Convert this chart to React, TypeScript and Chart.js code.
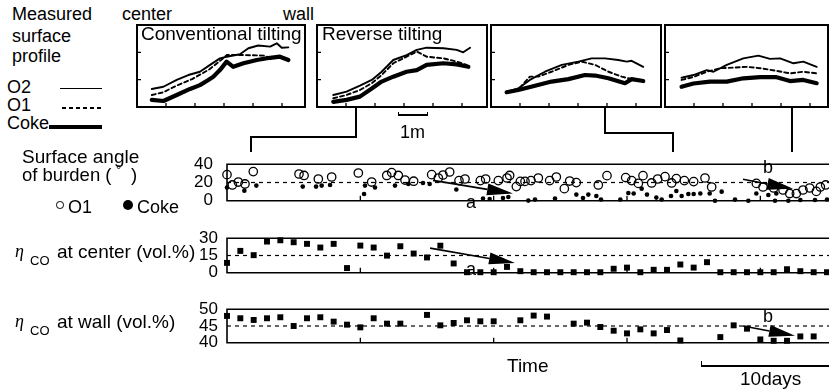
import React, { useEffect, useRef } from "react";
import { Chart, registerables } from "chart.js";
Chart.register(...registerables);

const FONT = '"Liberation Sans", Arial, Helvetica, sans-serif';
const SERIF = '"Liberation Serif", "DejaVu Serif", serif';

// ---------------- time axis (days) ----------------
const timeTicks = [10, 20, 30, 40];
const TIME_MAX = 45.6;

// ---------------- surface angle of burden (deg) : [day, angle] ----------------
const angleTicks = [0, 20, 40];
const angleRef = 20;
const angleO1: [number, number][] = [
  [0, 28.6], [0.4, 17.3], [0.85, 20.5], [1.35, 18.4], [1.97, 31.9],
  [5.4, 29.3], [5.78, 27.7], [6.85, 23.8], [7.85, 26], [9.85, 30.4],
  [10.85, 20.5], [11.98, 27.7], [12.35, 30.8], [12.85, 27.7], [13.35, 22.7],
  [14.0, 21.4], [15.35, 28.6], [15.85, 24.9], [16.2, 28.2], [16.7, 31.5],
  [17.4, 22.1], [17.85, 23.8], [19, 22.1], [19.4, 23.8], [20.35, 22.1],
  [21, 24.9], [21.2, 27.7], [21.7, 15.5], [22, 21.2], [22.35, 21.2],
  [22.8, 22.1], [23.35, 24.9], [24.2, 22.1], [24.7, 26], [25.3, 13.3],
  [25.7, 21.6], [26.2, 19.9], [27.85, 17.3], [28.5, 27.5], [29.9, 25.4],
  [30.35, 22.1], [30.85, 19], [31.2, 27.5], [31.85, 19.5], [32.3, 23.8],
  [32.85, 26.4], [33.35, 19.5], [33.7, 24.3], [34.3, 22.1], [35, 21],
  [35.85, 24.9], [36.35, 15.1], [39.7, 19], [40.2, 15.1], [41, 14],
  [41.7, 11.8], [42.2, 7.9], [42.7, 7.9], [43.2, 11.8], [43.7, 14],
  [44.2, 10.3], [44.5, 15.1], [44.9, 17.3],
];
const angleCoke: [number, number][] = [
  [0, 14.6], [1.3, 11.1], [2.2, 16.6], [5.68, 15.5], [6.68, 15.5],
  [7.1, 16.6], [7.73, 17.3], [10.28, 7.4], [10.35, 16.6], [11.1, 14.6],
  [12.6, 16.6], [13.6, 18.4], [14.7, 19.5], [15.2, 18.4], [17.2, 12.3],
  [19.2, 2.4], [19.7, 2], [20.7, 3.1], [21.1, 4.1], [22.6, 0.2],
  [23.1, 1.3], [24.6, 2.4], [26.2, 6.8], [26.7, 3.1], [27.1, 6.8],
  [27.7, 5.2], [28.05, 1.5], [29.5, 1.5], [30.1, 8.5], [30.5, 7.9],
  [31.1, 13.3], [31.5, 6.8], [32.2, 3.5], [32.6, 1.5], [33.3, 5.2],
  [33.7, 10.7], [34.1, 5.2], [34.6, 7.4], [35, 7.4], [35.5, 7.9],
  [36.2, 7.9], [36.6, 0], [37.1, 10], [38.1, 1.3], [39.1, 0],
  [39.7, 7.9], [40.6, 6.4], [41.1, 0], [41.2, 7.9], [42.1, 0],
  [43, 0.9], [44.1, 0.9], [45, 1.5],
];
const angleArrows = [
  { from: [15.45, 22.3], to: [21.45, 7.9] },
  { from: [38.7, 23.6], to: [42.46, 13.1] },
];

// ---------------- eta CO (vol.%) sampled daily ----------------
const days = [
  0, 1, 2, 3, 4, 5, 6, 7, 8, 9, 10, 11, 12, 13, 14, 15, 16, 17, 18, 19, 20, 21, 22,
  23, 24, 25, 26, 27, 28, 29, 30, 31, 32, 33, 34, 35, 36, 37, 38, 39, 40, 41, 42, 43, 44, 45,
];
const centerTicks = [0, 15, 30];
const centerRef = 15;
const coCenter = [
  8.6, 19, 15.3, 27.1, 28.2, 26.5, 25.1, 21.9, 25.1, 4.1, 23.6, 21.9, 14.9, 23, 16.7, 13.3,
  23.5, 8.1, 0.5, 0.5, 0.5, 5.1, 1.4, 0.5, 0.5, 0.5, 0.5, 0.5, 0.5, 3.5, 4.5, 0.5, 2.6, 2.6,
  7.2, 4.5, 9.2, 0.5, 0.5, 0.5, 0.5, 0.5, 3.1, 1.4, 0.5, 0.5,
];
const centerArrows = [{ from: [15.23, 21.4], to: [21.6, 8.6] }];

const wallTicks = [40, 45, 50];
const wallRef = 45;
const coWall: (number | null)[] = [
  48, 47.3, 46.8, 47.3, 47.6, 45, 47.3, 47.6, 46.3, 45.4, 44.6, 47.3, 45.7, 45.7, null, 48.3,
  45.2, 45.9, 46.7, 46.4, 46.4, null, 46.7, 48.1, 47.8, null, 45.7, 46, 44.7, 43.6, 42.8, 44,
  42.8, 43.8, 40.7, null, null, 41.7, 45.2, 44.2, 41, 40.6, 40.6, 41.9, 41.9, null,
];
const wallArrows = [{ from: [38.7, 45], to: [42.6, 42.1] }];

// ---------------- measured surface profiles : [position m, height] ----------------
const profileXTicks = [1, 2, 3, 4, 5];
const profileYTicks = [1, 2];
const conventionalO2: [number, number][] = [
  [0.51, 0.66], [0.91, 0.74], [1.37, 0.99], [1.77, 1.17], [2.17, 1.29], [2.52, 1.54],
  [2.86, 1.78], [3.09, 1.84], [3.55, 1.93], [3.84, 2.15], [4.18, 2.25], [4.59, 2.21],
  [4.82, 2.33], [4.99, 2.17], [5.22, 2.18],
];
const conventionalO1: [number, number][] = [
  [0.51, 0.44], [0.91, 0.54], [1.4, 0.8], [1.9, 1.02], [2.5, 1.38], [2.9, 1.72],
  [3.1, 1.9], [3.7, 1.9], [4.37, 1.88], [4.6, 1.8],
];
const conventionalCoke: [number, number][] = [
  [0.51, 0.26], [0.91, 0.22], [1.37, 0.44], [1.83, 0.66], [2.17, 0.8], [2.46, 0.99],
  [2.63, 1.11], [2.86, 1.35], [3.09, 1.66], [3.32, 1.47], [3.67, 1.6], [4.13, 1.72],
  [4.59, 1.8], [4.93, 1.84], [5.22, 1.72],
];
const reverseO2: [number, number][] = [
  [0.56, 0.44], [1.02, 0.56], [1.48, 0.78], [1.89, 0.99], [2.23, 1.29], [2.63, 1.72],
  [3.09, 1.9], [3.44, 2.09], [3.78, 2.17], [4.36, 2.15], [4.82, 2.09], [5.04, 2.0], [5.28, 2.17],
];
const reverseO1: [number, number][] = [
  [0.56, 0.32], [1.02, 0.44], [1.48, 0.62], [1.89, 0.87], [2.23, 1.17], [2.63, 1.6],
  [3.09, 1.84], [3.44, 2.03], [3.78, 1.84], [4.36, 1.78], [4.82, 1.66], [5.16, 1.54],
];
const reverseCoke: [number, number][] = [
  [0.56, 0.19], [1.02, 0.26], [1.48, 0.38], [1.89, 0.68], [2.23, 0.93], [2.63, 1.11],
  [3.09, 1.29], [3.44, 1.35], [3.78, 1.54], [4.36, 1.6], [4.82, 1.56], [5.22, 1.47],
];
const phase3O2: [number, number][] = [
  [0.54, 0.56], [0.94, 0.68], [1.34, 0.99], [1.86, 1.29], [2.44, 1.54], [3.01, 1.66],
  [3.47, 1.78], [3.93, 1.78], [4.39, 1.72], [4.68, 1.66], [4.85, 1.69], [5.25, 1.47],
];
const phase3O1: [number, number][] = [
  [0.54, 0.56], [0.94, 0.64], [1.34, 1.11], [1.63, 1.11], [2.09, 1.29], [2.67, 1.54],
  [3.13, 1.66], [3.59, 1.54], [4.05, 1.29], [4.51, 1.11], [4.85, 1.02], [5.25, 0.99],
];
const phase3Coke: [number, number][] = [
  [0.54, 0.54], [0.94, 0.62], [1.52, 0.78], [2.09, 0.93], [2.67, 1.02], [3.24, 1.17],
  [3.59, 1.15], [4.05, 1.05], [4.62, 0.87], [4.85, 1.02], [5.25, 0.95],
];
const phase4O2: [number, number][] = [
  [0.57, 1.07], [0.98, 1.17], [1.44, 1.35], [1.67, 1.29], [2.13, 1.54], [2.7, 1.78],
  [3.22, 1.88], [3.62, 1.76], [3.97, 1.78], [4.43, 1.6], [4.77, 1.66], [5.23, 1.47],
];
const phase4O1: [number, number][] = [
  [0.57, 0.99], [0.98, 1.1], [1.44, 1.29], [1.9, 1.42], [2.36, 1.44], [2.82, 1.47],
  [3.28, 1.42], [3.85, 1.32], [4.31, 1.23], [4.77, 1.29], [5.23, 1.23],
];
const phase4Coke: [number, number][] = [
  [0.57, 0.74], [0.98, 0.86], [1.55, 0.93], [2.13, 0.93], [2.7, 1.05], [3.28, 1.09],
  [3.85, 1.09], [4.31, 0.95], [4.77, 0.99], [5.23, 0.87],
];

// ---------------- helpers ----------------
const toXY = (pts: [number, number][]) => pts.map(([x, y]) => ({ x, y }));
const dailyXY = (vals: (number | null)[]) =>
  days.map((d, i) => (vals[i] == null ? null : { x: d, y: vals[i] })).filter(Boolean);

function drawArrow(ctx: CanvasRenderingContext2D, x1: number, y1: number, x2: number, y2: number) {
  const ang = Math.atan2(y2 - y1, x2 - x1);
  const L = 26, W = 6;
  const bx = x2 - L * Math.cos(ang), by = y2 - L * Math.sin(ang);
  ctx.lineWidth = 1.6;
  ctx.beginPath();
  ctx.moveTo(x1, y1);
  ctx.lineTo(bx, by);
  ctx.stroke();
  ctx.beginPath();
  ctx.moveTo(x2, y2);
  ctx.lineTo(bx + W * Math.sin(ang), by - W * Math.cos(ang));
  ctx.lineTo(bx - W * Math.sin(ang), by + W * Math.cos(ang));
  ctx.closePath();
  ctx.fill();
}

function framePlugin(o: any) {
  return {
    id: "frame",
    beforeDatasetsDraw(chart: any) {
      const { ctx, chartArea: a } = chart;
      const xs = chart.scales.x, ys = chart.scales.y;
      ctx.save();
      ctx.strokeStyle = "#000";
      ctx.fillStyle = "#000";
      ctx.lineWidth = o.lineWidth;
      ctx.beginPath();
      if (o.closed) ctx.rect(a.left, a.top, a.right - a.left, a.bottom - a.top);
      else {
        ctx.moveTo(a.right, a.top);
        ctx.lineTo(a.left, a.top);
        ctx.lineTo(a.left, a.bottom);
        ctx.lineTo(a.right, a.bottom);
      }
      ctx.stroke();
      ctx.lineWidth = o.tickWidth;
      ctx.beginPath();
      (o.xTicks || []).forEach((v: number) => {
        const p = xs.getPixelForValue(v);
        ctx.moveTo(p, a.bottom);
        ctx.lineTo(p, a.bottom - o.tickLen);
      });
      (o.yTicks || []).forEach((v: number) => {
        const p = ys.getPixelForValue(v);
        ctx.moveTo(a.left, p);
        ctx.lineTo(a.left + o.tickLen, p);
      });
      ctx.stroke();
      if (o.ref != null) {
        const p = ys.getPixelForValue(o.ref);
        ctx.setLineDash([4, 4]);
        ctx.lineWidth = 1.2;
        ctx.beginPath();
        ctx.moveTo(a.left, p);
        ctx.lineTo(a.right, p);
        ctx.stroke();
        ctx.setLineDash([]);
      }
      ctx.restore();
    },
    afterDatasetsDraw(chart: any) {
      if (!o.arrows) return;
      const { ctx } = chart;
      const xs = chart.scales.x, ys = chart.scales.y;
      ctx.save();
      ctx.strokeStyle = "#000";
      ctx.fillStyle = "#000";
      o.arrows.forEach((ar: any) => {
        drawArrow(
          ctx,
          xs.getPixelForValue(ar.from[0]), ys.getPixelForValue(ar.from[1]),
          xs.getPixelForValue(ar.to[0]), ys.getPixelForValue(ar.to[1])
        );
      });
      ctx.restore();
    },
  };
}

function ChartCanvas({ left, top, width, height, build }: any) {
  const ref = useRef<HTMLCanvasElement>(null);
  useEffect(() => {
    const chart = new Chart(ref.current as HTMLCanvasElement, build());
    return () => chart.destroy();
  }, []);
  return (
    <canvas
      ref={ref}
      width={width}
      height={height}
      style={{ position: "absolute", left, top, width, height, display: "block" }}
    />
  );
}

// main panel: chart area from x=227 to 835, given top/bottom
function panelBuilder(p: any) {
  return () => ({
    type: "scatter",
    data: { datasets: p.datasets },
    options: {
      animation: false,
      responsive: false,
      devicePixelRatio: 1,
      events: [],
      layout: { padding: { left: 0, right: 15, top: 12, bottom: 12 } },
      plugins: { legend: { display: false }, tooltip: { enabled: false } },
      scales: {
        x: { type: "linear", display: false, min: 0, max: TIME_MAX },
        y: {
          type: "linear",
          min: p.ticks[0],
          max: p.ticks[p.ticks.length - 1],
          afterFit: (s: any) => { s.width = 77; },
          afterBuildTicks: (s: any) => { s.ticks = p.ticks.map((v: number) => ({ value: v })); },
          grid: { display: false, drawTicks: false },
          border: { display: false },
          ticks: { color: "#000", padding: p.pad, font: { family: FONT, size: 17 } },
        },
      },
    },
    plugins: [
      framePlugin({
        closed: false, lineWidth: 1.6, tickWidth: 1.3, tickLen: 5,
        xTicks: timeTicks, ref: p.ref, arrows: p.arrows,
      }),
    ],
  });
}

function profileBuilder(xMax: number, o2: [number, number][], o1: [number, number][], coke: [number, number][]) {
  const line = (pts: [number, number][], w: number, dash: number[]) => ({
    data: toXY(pts), showLine: true, borderColor: "#000", borderWidth: w, borderDash: dash,
    pointRadius: 0, fill: false, tension: 0, clip: false, borderJoinStyle: "round", borderCapStyle: "round",
  });
  return () => ({
    type: "scatter",
    data: { datasets: [line(o2, 1.9, []), line(o1, 1.9, [4, 3]), line(coke, 4.2, [])] },
    options: {
      animation: false,
      responsive: false,
      devicePixelRatio: 1,
      events: [],
      layout: { padding: 4 },
      plugins: { legend: { display: false }, tooltip: { enabled: false } },
      scales: {
        x: { type: "linear", display: false, min: 0, max: xMax },
        y: { type: "linear", display: false, min: 0, max: 3 },
      },
    },
    plugins: [
      framePlugin({
        closed: true, lineWidth: 2, tickWidth: 1.3, tickLen: 4,
        xTicks: profileXTicks.filter((v) => v < xMax), yTicks: profileYTicks,
      }),
    ],
  });
}

const T = ({ x, b, s = 18, family = FONT, style = {}, children }: any) => (
  <div
    style={{
      position: "absolute", left: x, top: b - 0.8465 * s, fontSize: s, lineHeight: `${s}px`,
      fontFamily: family, whiteSpace: "nowrap", color: "#000", ...style,
    }}
  >
    {children}
  </div>
);
const HL = ({ x1, x2, y, t = 1.5 }: any) => (
  <div style={{ position: "absolute", left: x1, top: y - t / 2, width: x2 - x1, height: t, background: "#000" }} />
);
const VL = ({ x, y1, y2, t = 1.5 }: any) => (
  <div style={{ position: "absolute", left: x - t / 2, top: y1, width: t, height: y2 - y1, background: "#000" }} />
);

const PX_PER_M = 29;
const boxes = [
  { l: 137, r: 305, o2: conventionalO2, o1: conventionalO1, coke: conventionalCoke },
  { l: 317, r: 487, o2: reverseO2, o1: reverseO1, coke: reverseCoke },
  { l: 491, r: 661, o2: phase3O2, o1: phase3O1, coke: phase3Coke },
  { l: 665, r: 828, o2: phase4O2, o1: phase4O1, coke: phase4Coke },
];
const BOX_TOP = 25, BOX_BOTTOM = 107;

const panels = [
  {
    top: 152, bottom: 213, ticks: angleTicks, pad: 14, ref: angleRef, arrows: angleArrows,
    datasets: [
      { data: toXY(angleO1), pointStyle: "circle", pointRadius: 4.2, borderWidth: 1.3,
        borderColor: "#000", backgroundColor: "rgba(0,0,0,0)", clip: false },
      { data: toXY(angleCoke), pointStyle: "circle", pointRadius: 2.3, borderWidth: 0,
        backgroundColor: "#000", borderColor: "#000", clip: false },
    ],
  },
  {
    top: 231, bottom: 280, ticks: centerTicks, pad: 9, ref: centerRef, arrows: centerArrows,
    datasets: [
      { data: dailyXY(coCenter), pointStyle: "rect", pointRadius: 4.2, borderWidth: 0,
        backgroundColor: "#000", borderColor: "#000", clip: false },
    ],
  },
  {
    top: 302, bottom: 350, ticks: wallTicks, pad: 9, ref: wallRef, arrows: wallArrows,
    datasets: [
      { data: dailyXY(coWall), pointStyle: "rect", pointRadius: 4.2, borderWidth: 0,
        backgroundColor: "#000", borderColor: "#000", clip: false },
    ],
  },
];

export default function App() {
  return (
    <div style={{ position: "fixed", left: 0, top: 0, width: 829, height: 391, overflow: "hidden", background: "#fff" }}>
      {/* legend / captions at left */}
      <T x={12} b={20}>Measured</T>
      <T x={12} b={42}>surface</T>
      <T x={12} b={62}>profile</T>
      <T x={122} b={20}>center</T>
      <T x={283} b={20}>wall</T>
      <T x={7} b={93}>O2</T>
      <T x={7} b={111}>O1</T>
      <T x={7} b={129}>Coke</T>
      <HL x1={60} x2={102} y={88} t={1} />
      <div style={{ position: "absolute", left: 62, top: 107.3, width: 40, height: 1.4,
        background: "repeating-linear-gradient(to right, #000 0 4px, rgba(0,0,0,0) 4px 7px)" }} />
      <HL x1={49} x2={102} y={127} t={3.6} />

      {/* profile insets */}
      {boxes.map((bx, i) => (
        <ChartCanvas
          key={i}
          left={bx.l - 4}
          top={BOX_TOP - 4}
          width={bx.r - bx.l + 8}
          height={BOX_BOTTOM - BOX_TOP + 8}
          build={profileBuilder((bx.r - bx.l) / PX_PER_M, bx.o2, bx.o1, bx.coke)}
        />
      ))}
      <T x={141} b={40} s={19}>Conventional tilting</T>
      <T x={322} b={40} s={19}>Reverse tilting</T>
      <HL x1={398} x2={428} y={115} />
      <VL x={398.7} y1={111.5} y2={116} />
      <VL x={427.3} y1={111.5} y2={116} />
      <T x={400} b={138}>1m</T>

      {/* connectors */}
      <VL x={356} y1={107} y2={137.7} />
      <HL x1={250.3} x2={356.7} y={137} />
      <VL x={251} y1={137} y2={152} />
      <VL x={605} y1={107} y2={133.7} />
      <HL x1={604.3} x2={673.7} y={133} />
      <VL x={673} y1={133} y2={152} />
      <VL x={792} y1={107} y2={152} />

      {/* main panels */}
      {panels.map((p, i) => (
        <ChartCanvas
          key={"p" + i}
          left={150}
          top={p.top - 12}
          width={700}
          height={p.bottom - p.top + 24}
          build={panelBuilder(p)}
        />
      ))}

      {/* panel captions */}
      <T x={22} b={163} s={19}>Surface angle</T>
      <T x={22} b={182} s={18.5}>of burden (</T>
      <T x={116} b={174} s={13}>°</T>
      <T x={131} b={182} s={18.5}>)</T>
      <div style={{ position: "absolute", left: 56.2, top: 201.2, width: 7.6, height: 7.6, borderRadius: "50%",
        border: "1.3px solid #000", boxSizing: "border-box" }} />
      <T x={68} b={213}>O1</T>
      <div style={{ position: "absolute", left: 123, top: 200, width: 10, height: 10, borderRadius: "50%", background: "#000" }} />
      <T x={137} b={213}>Coke</T>

      <T x={15} b={257} s={18} family={SERIF} style={{ fontStyle: "italic" }}>η</T>
      <T x={30} b={265} s={13}>CO</T>
      <T x={57} b={258} s={19}>at center (vol.%)</T>
      <T x={15} b={327} s={18} family={SERIF} style={{ fontStyle: "italic" }}>η</T>
      <T x={30} b={335} s={13}>CO</T>
      <T x={57} b={328} s={19}>at wall (vol.%)</T>

      {/* arrow labels */}
      <T x={466} b={208}>a</T>
      <T x={466} b={275}>a</T>
      <T x={763} b={173}>b</T>
      <T x={763} b={322}>b</T>

      {/* time axis captions */}
      <T x={507} b={372} s={19}>Time</T>
      <HL x1={701} x2={829} y={366} />
      <VL x={701.7} y1={361} y2={366.7} />
      <T x={740} b={385} s={19}>10days</T>
    </div>
  );
}
